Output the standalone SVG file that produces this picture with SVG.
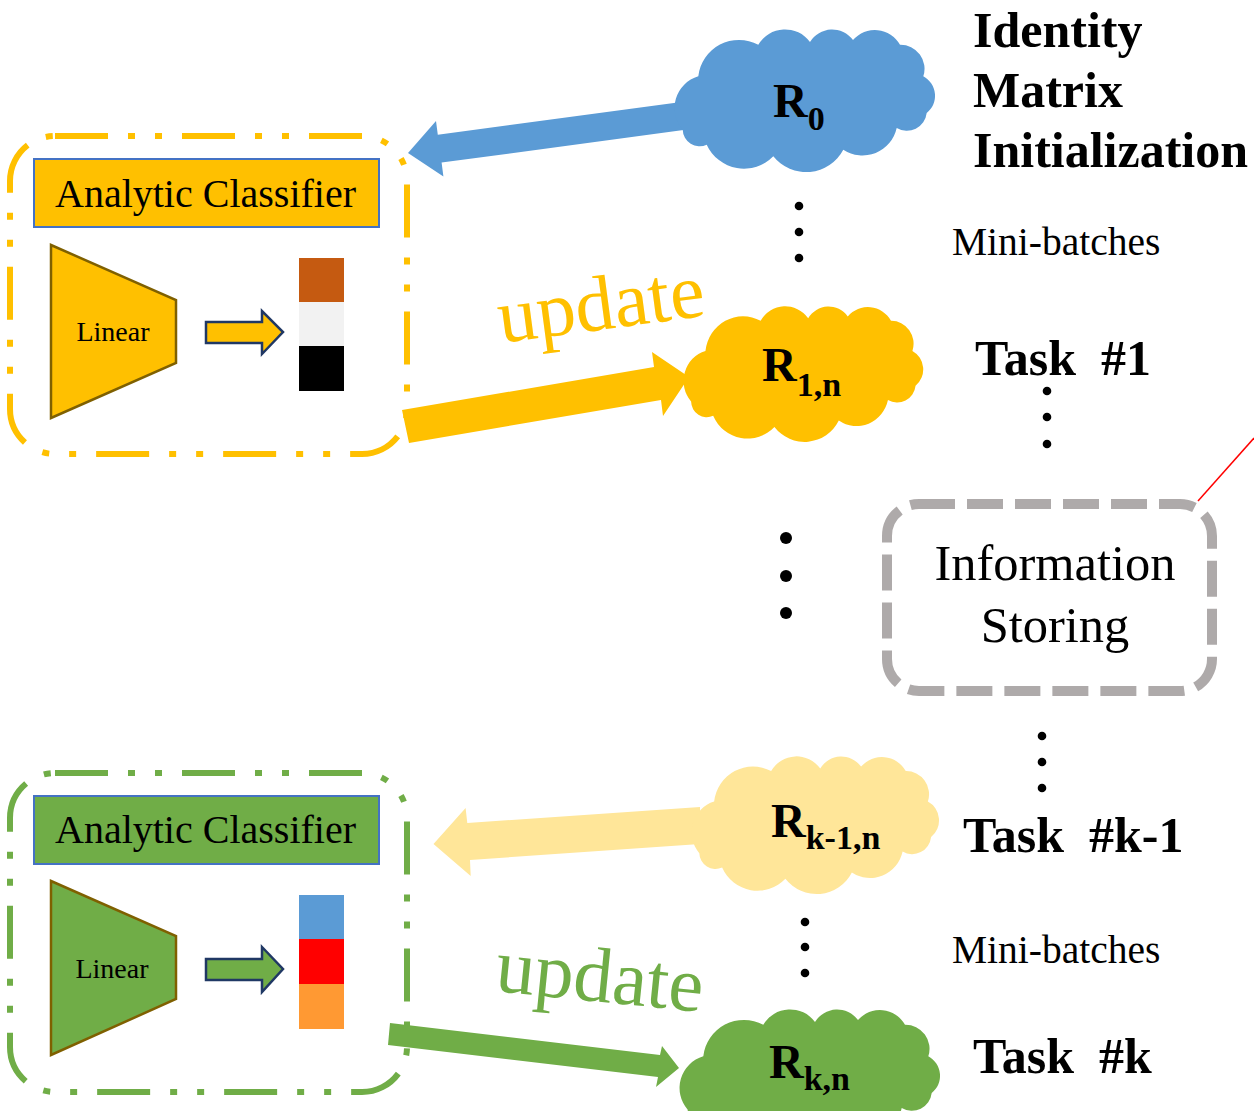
<svg xmlns="http://www.w3.org/2000/svg" width="1254" height="1111" viewBox="0 0 1254 1111">
<style>
.serif{font-family:"Liberation Serif","Times New Roman",serif}
.lbl{font-family:"Liberation Serif","Times New Roman",serif;font-size:40px;fill:#000}
.lin{font-family:"Liberation Serif","Times New Roman",serif;font-size:28px;fill:#000;text-anchor:middle}
.rl{font-family:"Liberation Serif","Times New Roman",serif;font-weight:bold;font-size:48px;fill:#000}
.sub{font-size:34px}
.task{font-family:"Liberation Serif","Times New Roman",serif;font-weight:bold;font-size:50px;fill:#000}
.mb{font-family:"Liberation Serif","Times New Roman",serif;font-size:39.5px;fill:#000}
.dash{fill:none;stroke-width:6;stroke-dasharray:53 20 7 20 7 20}
.trap{stroke:#7F6000;stroke-width:2.5}
.sarrow{stroke:#203864;stroke-width:2.5}
.cls{stroke:#4472C4;stroke-width:2}
</style>
<defs>
<path id="cloud" d="M7.7,101.7 A33,33 0 0 1 23.3,48.3 A41,41 0 0 1 83.3,16.7 A31,31 0 0 1 135,14 A26,26 0 0 1 178,12 A29,29 0 0 1 225,16.7 A24,24 0 0 1 248.3,48.3 A22,22 0 0 1 251.7,85 A20,20 0 0 1 221.7,100 A35,35 0 0 1 168.3,121.7 A42,42 0 0 1 98.3,128.3 A41,41 0 0 1 31.7,116.7 A17,17 0 0 1 7.7,101.7 Z"/>
</defs>
<rect width="1254" height="1111" fill="#fff"/>

<g id="classifier-task1">
<rect class="dash" x="10" y="136" width="397" height="318" rx="45" stroke="#FFC000"/>
<rect class="cls" x="34" y="159" width="345" height="68" fill="#FFC000"/>
<text class="lbl" x="55" y="207">Analytic Classifier</text>
<polygon class="trap" points="51,245 176,300 176,363 51,418" fill="#FFC000"/>
<text class="lin" x="113" y="341">Linear</text>
<polygon class="sarrow" points="206,322 262,322 262,311 283,332 262,354 262,343 206,343" fill="#FFC000"/>
<rect x="299" y="258" width="45" height="44" fill="#C55A11"/>
<rect x="299" y="302" width="45" height="44" fill="#F2F2F2"/>
<rect x="299" y="346" width="45" height="45" fill="#000"/>
</g>

<g id="classifier-taskk">
<rect class="dash" x="10" y="773" width="397" height="319" rx="45" stroke="#70AD47"/>
<rect class="cls" x="34" y="796" width="345" height="68" fill="#70AD47"/>
<text class="lbl" x="55" y="843">Analytic Classifier</text>
<polygon class="trap" points="51,881 176,936 176,999 51,1055" fill="#70AD47"/>
<text class="lin" x="112" y="978">Linear</text>
<polygon class="sarrow" points="206,959 262,959 262,947 283,969 262,992 262,980 206,980" fill="#70AD47"/>
<rect x="299" y="895" width="45" height="44" fill="#5B9BD5"/>
<rect x="299" y="939" width="45" height="45" fill="#FF0000"/>
<rect x="299" y="984" width="45" height="45" fill="#FF9933"/>
</g>

<g id="info-storing">
<rect x="887" y="504" width="325" height="187" rx="32" fill="none" stroke="#AEAAAA" stroke-width="10" stroke-dasharray="36 12"/>
<text class="serif" x="1055" y="580" font-size="50.5" text-anchor="middle">Information</text>
<text class="serif" x="1055" y="642" font-size="50.5" text-anchor="middle">Storing</text>
<line x1="1198" y1="501" x2="1254" y2="438" stroke="#FF0000" stroke-width="1.5"/>
</g>

<g id="connectors">
<polygon points="408,153 436,121 437.8,134.8 698.1,99.7 701.9,127.5 441.6,162.6 443.4,176.4" fill="#5B9BD5"/>
<polygon points="402,410 654,367 652,352 689,377 663,416 661,400 409,443" fill="#FFC000"/>
<polygon points="433.5,844 465.6,808 467.3,823 700,807 700,844 470,860 470.7,876" fill="#FFE699"/>
<polygon points="390,1023 660,1055 662,1046 679,1068 656,1087 658,1077 388,1045" fill="#70AD47"/>
<text class="serif" x="501" y="343" font-size="78" fill="#FFC000" transform="rotate(-7.6 501 343)">update</text>
<text class="serif" x="494" y="991" font-size="78" fill="#70AD47" transform="rotate(5.8 494 991)">update</text>
</g>

<g id="r0">
<use href="#cloud" fill="#5B9BD5" transform="translate(675,28)"/>
<text class="rl" x="773" y="117">R<tspan class="sub" dy="13">0</tspan></text>
</g>
<g id="r1n">
<use href="#cloud" fill="#FFC000" transform="translate(684,305) scale(0.92,0.95)"/>
<text class="rl" x="762" y="381">R<tspan class="sub" dy="15">1,n</tspan></text>
</g>
<g id="rk1n">
<use href="#cloud" fill="#FFE699" transform="translate(692,755) scale(0.95,0.965)"/>
<text class="rl" x="771" y="837">R<tspan class="sub" dy="12">k-1,n</tspan></text>
</g>
<g id="rkn">
<use href="#cloud" fill="#70AD47" transform="translate(680,1008)"/>
<text class="rl" x="769" y="1078">R<tspan class="sub" dy="12">k,n</tspan></text>
</g>

<g id="labels">
<text class="task" x="973" y="47" font-size="52.5">Identity</text>
<text class="task" x="973" y="107" font-size="52.5">Matrix</text>
<text class="task" x="973" y="167" font-size="52.5">Initialization</text>
<text class="mb" x="952" y="255">Mini-batches</text>
<text class="task" x="975" y="375" xml:space="preserve">Task  #1</text>
<text class="task" x="963" y="852" xml:space="preserve">Task  #k-1</text>
<text class="mb" x="952" y="963">Mini-batches</text>
<text class="task" x="973" y="1073" xml:space="preserve">Task  #k</text>
</g>

<g id="dots" fill="#000">
<circle cx="799" cy="206" r="4.3"/><circle cx="799" cy="232" r="4.3"/><circle cx="799" cy="258" r="4.3"/>
<circle cx="1047" cy="391" r="4.3"/><circle cx="1047" cy="417" r="4.3"/><circle cx="1047" cy="444" r="4.3"/>
<circle cx="786" cy="538" r="6"/><circle cx="786" cy="576" r="6"/><circle cx="786" cy="613" r="6"/>
<circle cx="1042" cy="736" r="4.3"/><circle cx="1042" cy="762" r="4.3"/><circle cx="1042" cy="788" r="4.3"/>
<circle cx="805" cy="922" r="4.3"/><circle cx="805" cy="947" r="4.3"/><circle cx="805" cy="973" r="4.3"/>
</g>
</svg>
